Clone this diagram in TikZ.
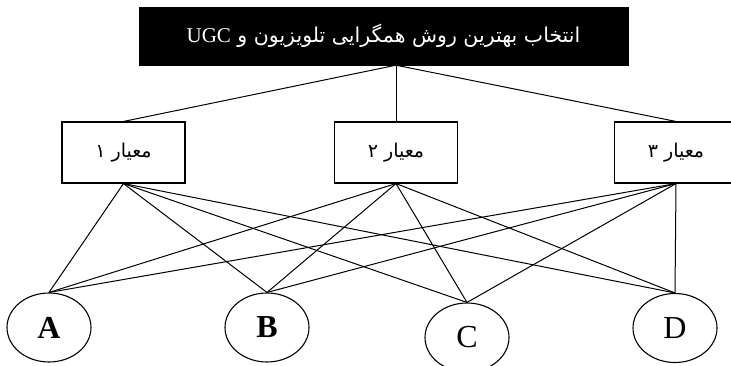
\documentclass[tikz,border=0pt]{standalone}
\usepackage{fontspec}
\setmainfont{Liberation Serif}
\newfontfamily\arabicfont[Script=Arabic]{DejaVu Sans}
\TeXXeTstate=1
\usetikzlibrary{shapes.geometric}
\tikzset{
	goalbox/.style={draw, fill=black, text=white, minimum width=489, minimum height=58, inner sep=0},
	critbox/.style={draw, line width=1.1pt, minimum width=123, minimum height=61, inner sep=0},
	altnode/.style={draw, line width=1.1pt, ellipse, minimum width=84, minimum height=69, inner sep=0},
	link/.style={line width=1pt}
}

\begin{document}
\begin{tikzpicture}[x=1pt, y=-1pt]
			%%%%% START %%%%%
			\useasboundingbox (0, 0) rectangle (731, 366);
			
			\node[goalbox] (goal) at (383.5, 36) {\fontsize{21}{24}\selectfont\beginR{\arabicfont\fontsize{20.5}{24}\selectfont انتخاب بهترین روش همگرایی تلویزیون و }\beginL UGC\endL\endR};
			
			\node[critbox] (crit1) at (123.5, 152.5) {\arabicfont\fontsize{19}{22}\selectfont\beginR معیار ۱\endR};
			\node[critbox] (crit2) at (396, 152.5) {\arabicfont\fontsize{19}{22}\selectfont\beginR معیار ۲\endR};
			\node[critbox] (crit3) at (676, 152.5) {\arabicfont\fontsize{19}{22}\selectfont\beginR معیار ۳\endR};
			
			\node[altnode] (altA) at (49, 327.5) {\fontsize{32}{34}\selectfont\bfseries A};
			\node[altnode] (altB) at (267, 327.5) {\fontsize{32}{34}\selectfont\bfseries B};
			\node[altnode] (altC) at (467, 337.5) {\fontsize{32}{34}\selectfont C};
			\node[altnode] (altD) at (675, 328) {\fontsize{32}{34}\selectfont D};
			
			\draw[link] (goal.south -| crit2.north) -- (crit1.north);
			\draw[link] (goal.south -| crit2.north) -- (crit2.north);
			\draw[link] (goal.south -| crit2.north) -- (crit3.north);
			
			\draw[link] (crit1.south) -- (altA.north);
			\draw[link] (crit1.south) -- (altB.north);
			\draw[link] (crit1.south) -- (altC.north);
			\draw[link] (crit1.south) -- (altD.north);
			
			\draw[link] (crit2.south) -- (altA.north);
			\draw[link] (crit2.south) -- (altB.north);
			\draw[link] (crit2.south) -- (altC.north);
			\draw[link] (crit2.south) -- (altD.north);
			
			\draw[link] (crit3.south) -- (altA.north);
			\draw[link] (crit3.south) -- (altB.north);
			\draw[link] (crit3.south) -- (altC.north);
			\draw[link] (crit3.south) -- (altD.north);
			
			%%%%% END %%%%%
		\end{tikzpicture}
\end{document}
